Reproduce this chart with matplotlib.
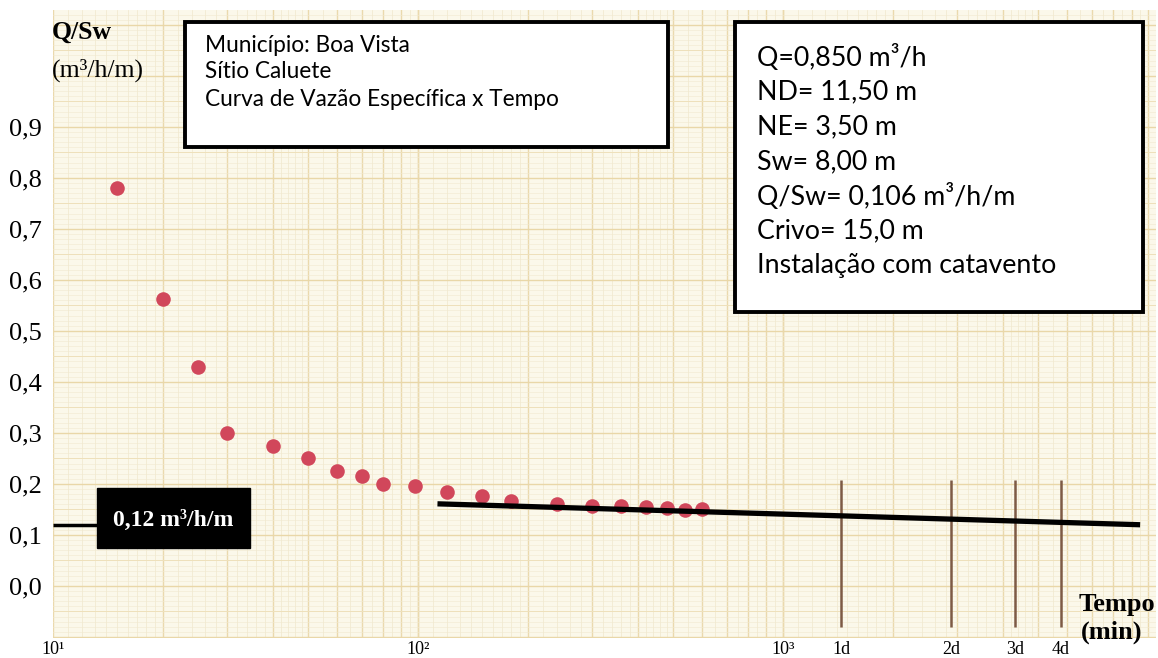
import numpy as np
import matplotlib
matplotlib.use("Agg")
import matplotlib.pyplot as plt
from matplotlib.patches import Rectangle

# dados do teste de vazao (tempo em minutos, vazao especifica em m3/h/m)
tempo = [15, 20, 25, 30, 40, 50, 60, 70, 80, 98, 120, 150, 180, 240, 300, 360, 420, 480, 540, 600]
q_sw = [0.78, 0.563, 0.43, 0.30, 0.275, 0.25, 0.225, 0.215, 0.20, 0.195, 0.185, 0.176, 0.167,
        0.16, 0.156, 0.157, 0.155, 0.153, 0.148, 0.151]

# reta de extrapolacao
reta_t = [113, 9500]
reta_q = [0.161, 0.120]

# marcas de dias
dias_t = [1440, 2880, 4320, 5760]
dias_lbl = ["1d", "2d", "3d", "4d"]
dias_q = [-0.08, 0.208]

x_ticks = [10, 100, 1000] + dias_t
x_lbls = ["10¹", "10²", "10³"] + dias_lbl
y_ticks = [0.0, 0.1, 0.2, 0.3, 0.4, 0.5, 0.6, 0.7, 0.8, 0.9]
y_lbls = ["0,0", "0,1", "0,2", "0,3", "0,4", "0,5", "0,6", "0,7", "0,8", "0,9"]

q_final = 0.12

info1 = ["Município: Boa Vista", "Sítio Caluete", "Curva de Vazão Específica x Tempo"]
info2 = ["Q=0,850 m³/h", "ND= 11,50 m", "NE= 3,50 m", "Sw= 8,00 m",
         "Q/Sw= 0,106 m³/h/m", "Crivo= 15,0 m", "Instalação com catavento"]

W, H = 1158, 658
fig = plt.figure(figsize=(W / 100, H / 100), dpi=100)
fig.patch.set_facecolor("white")

def fx(px):
    return px / W

def fy(py):
    return 1 - py / H

ax = fig.add_axes([fx(53), fy(638), fx(1156) - fx(53), fy(10) - fy(638)])
ax.set_xscale("log")
ax.set_xlim(10, 10500)
ax.set_ylim(-0.102, 1.129)
ax.set_facecolor("#fbf8ea")
for s in ax.spines.values():
    s.set_visible(False)

# papel mono-log (fundo)
for dec in [10, 100, 1000]:
    finos = np.concatenate([np.arange(1, 2, 0.1), np.arange(2, 5, 0.2), np.arange(5, 10.01, 0.5)])
    for m in finos:
        ax.axvline(dec * m, color="#f0e7cc", lw=0.5, zorder=0)
    for m in range(1, 11):
        ax.axvline(dec * m, color="#ead9ad", lw=1.0, zorder=0)
for v in np.arange(-0.10, 1.13, 0.01):
    ax.axhline(v, color="#f1e9d0", lw=0.4, zorder=0)
for v in np.arange(-0.10, 1.13, 0.05):
    ax.axhline(v, color="#eee0bb", lw=0.7, zorder=0)
for v in np.arange(-0.1, 1.13, 0.1):
    ax.axhline(v, color="#e9d7a8", lw=1.0, zorder=0)

# pontos e reta
ax.scatter(tempo, q_sw, s=110, color="#d1475b", zorder=3, linewidths=0)
ax.plot(reta_t, reta_q, color="black", lw=3.8, zorder=4, solid_capstyle="butt")
ax.vlines(dias_t, dias_q[0], dias_q[1], color="#7d5a45", lw=1.8, zorder=2)

# rotulo 0,12
ax.hlines(q_final, 10, 20, color="black", lw=2.5, zorder=4)
ax.add_patch(Rectangle((13.2, 0.075), 34.6 - 13.2, 0.117, facecolor="black", edgecolor="black", zorder=5))
ax.text(21.4, 0.128, "0,12 m³/h/m", color="white", fontsize=17, fontweight="bold",
        family="Liberation Serif", ha="center", va="center", zorder=6)

ax.set_xticks(x_ticks)
ax.set_xticklabels(x_lbls, family="Liberation Serif", fontsize=13)
ax.xaxis.set_minor_locator(matplotlib.ticker.NullLocator())
ax.set_yticks(y_ticks)
ax.set_yticklabels(y_lbls, family="Liberation Serif", fontsize=19)
ax.tick_params(length=0)
ax.tick_params(axis="x", pad=2)
ax.tick_params(axis="y", pad=8)

fig.text(fx(52), fy(32), "Q/Sw", family="Liberation Serif", fontweight="bold", fontsize=18.5, va="center")
fig.text(fx(52), fy(70), "(m³/h/m)", family="Liberation Serif", fontsize=18.5, va="center")
fig.text(fx(1155), fy(605), "Tempo", family="Liberation Serif", fontweight="bold", fontsize=19,
         ha="right", va="center")
fig.text(fx(1142), fy(632), "(min)", family="Liberation Serif", fontweight="bold", fontsize=19,
         ha="right", va="center")

# caixas de texto
for (x0, y0, x1, y1) in [(185, 22, 668, 147), (735, 22, 1143, 312)]:
    fig.patches.append(Rectangle((fx(x0), fy(y1)), fx(x1) - fx(x0), fy(y0) - fy(y1),
                                 transform=fig.transFigure, facecolor="white",
                                 edgecolor="black", lw=2.8, zorder=5))
for i, t in enumerate(info1):
    fig.text(fx(205), fy(45 + 27 * i), t, family="Lato", fontsize=16.3, va="center", zorder=6)
for i, t in enumerate(info2):
    fig.text(fx(757), fy(57 + 34.8 * i), t, family="Lato", fontsize=19.3, va="center", zorder=6)

fig.savefig("out.png", dpi=100, facecolor="white")
